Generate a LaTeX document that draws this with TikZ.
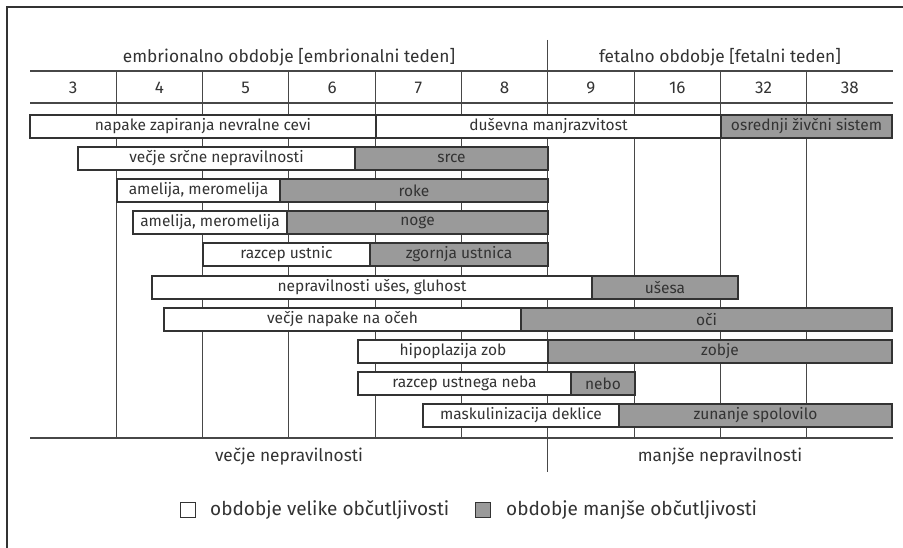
\documentclass[tikz,border=0pt]{standalone}
\usepackage{fontspec}
\setmainfont{Fira Sans}
\definecolor{ink}{HTML}{333333}
\definecolor{fillg}{HTML}{9A9A9A}
\begin{document}
\begin{tikzpicture}[x=1pt,y=-1pt,
  ln/.style={draw=ink,line width=1.2pt},
  grid/.style={draw=ink!90,line width=1.1pt},
  barbase/.style={draw=ink,line width=1.1pt,anchor=north west,minimum height=23pt,inner sep=0pt,outer sep=0pt,text=ink,font=\fontsize{15.5}{17}\selectfont},
  wbox/.style={barbase,fill=white},
  gbox/.style={barbase,fill=fillg},
  big/.style={text=ink,font=\fontsize{17.3}{20}\selectfont,inner sep=0pt},
  num/.style={text=ink,font=\fontsize{17}{19}\selectfont,inner sep=0pt},
  leg/.style={text=ink,font=\fontsize{19}{22}\selectfont,inner sep=0pt,anchor=west},
  lgbox/.style={draw=ink,line width=1pt,minimum width=15pt,minimum height=15pt,inner sep=0pt,anchor=north west}]
\useasboundingbox (0,0) rectangle (903,548);
\fill[white] (0,0) rectangle (903,548);
% frame
\draw[ln] (7,560) -- (7,7) -- (910,7);
% grid lines
\foreach \i in {1,...,9} {\draw[grid] ({30+86.3*\i},71) -- ({30+86.3*\i},438);}
\draw[grid] (547.8,40) -- (547.8,472);
\draw[grid] (30,71) -- (893,71);
\draw[grid] (30,103) -- (893,103);
\draw[grid] (30,438) -- (893,438);
% headers
\node[big] (hemb) at (289,57) {embrionalno obdobje [embrionalni teden]};
\node[big] (hfet) at (720,57) {fetalno obdobje [fetalni teden]};
\foreach \t [count=\k from 0] in {3,4,5,6,7,8,9,16,32,38}
  {\node[num] (w\k) at ({30+86.3*\k+43.15},88) {\t};}
% bars
\node[wbox,minimum width=346pt] (r1a) at (30,115) {napake zapiranja nevralne cevi};
\node[wbox,minimum width=345pt] (r1b) at (376,115) {duševna manjrazvitost};
\node[gbox,minimum width=171pt] (r1c) at (721,115) {osrednji živčni sistem};
\node[wbox,minimum width=277pt] (r2a) at (78,147) {večje srčne nepravilnosti};
\node[gbox,minimum width=193pt] (r2b) at (355,147) {srce};
\node[wbox,minimum width=163pt] (r3a) at (117,179) {amelija, meromelija};
\node[gbox,minimum width=268pt] (r3b) at (280,179) {roke};
\node[wbox,minimum width=154pt] (r4a) at (133,211) {amelija, meromelija};
\node[gbox,minimum width=261pt] (r4b) at (287,211) {noge};
\node[wbox,minimum width=167pt] (r5a) at (203,243) {razcep ustnic};
\node[gbox,minimum width=178pt] (r5b) at (370,243) {zgornja ustnica};
\node[wbox,minimum width=440pt] (r6a) at (152,276) {nepravilnosti ušes, gluhost};
\node[gbox,minimum width=146pt] (r6b) at (592,276) {ušesa};
\node[wbox,minimum width=357pt] (r7a) at (164,308) {večje napake na očeh};
\node[gbox,minimum width=371pt] (r7b) at (521,308) {oči};
\node[wbox,minimum width=190pt] (r8a) at (358,340) {hipoplazija zob};
\node[gbox,minimum width=344pt] (r8b) at (548,340) {zobje};
\node[wbox,minimum width=213pt] (r9a) at (358,372) {razcep ustnega neba};
\node[gbox,minimum width=64pt] (r9b) at (571,372) {nebo};
\node[wbox,minimum width=196pt] (r10a) at (423,404) {maskulinizacija deklice};
\node[gbox,minimum width=273pt] (r10b) at (619,404) {zunanje spolovilo};
% bottom labels
\node[big] (bvec) at (289,457) {večje nepravilnosti};
\node[big] (bman) at (720,457) {manjše nepravilnosti};
% legend
\node[lgbox,fill=white] (lg1) at (180,502) {};
\node[leg] (lt1) at (210,510) {obdobje velike občutljivosti};
\node[lgbox,fill=fillg] (lg2) at (475,502) {};
\node[leg] (lt2) at (506,510) {obdobje manjše občutljivosti};
\end{tikzpicture}
\end{document}
